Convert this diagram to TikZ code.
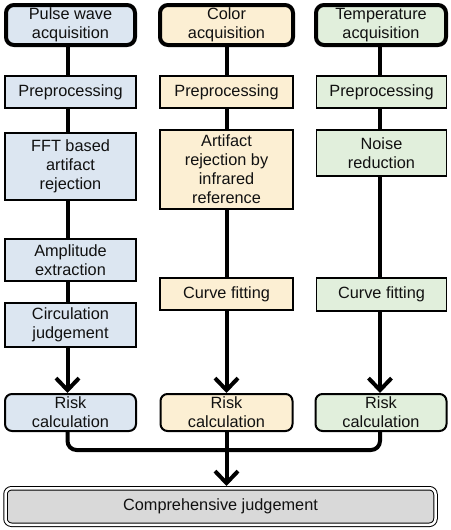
\documentclass[tikz,border=0pt]{standalone}
\usepackage{fontspec}
\setmainfont{Liberation Sans}
\usetikzlibrary{arrows.meta}
\definecolor{bluef}{HTML}{DCE6F1}
\definecolor{yelf}{HTML}{FCEFD3}
\definecolor{grnf}{HTML}{E1EFDC}
\definecolor{grayf}{HTML}{D9D9D9}
\definecolor{txt}{HTML}{111111}
\begin{document}
\begin{tikzpicture}[x=1pt,y=-1pt,
  every node/.style={font=\fontsize{16.3}{19}\selectfont, text=txt, align=center, inner sep=0pt},
  src/.style={draw, line width=4pt, rounded corners=8pt, minimum height=40pt},
  stepbox/.style={draw, line width=1.2pt},
  risk/.style={draw, line width=2pt, rounded corners=7pt, minimum height=37pt},
  conn/.style={line width=4pt},
  arr/.style={line width=4pt, -{Straight Barb[length=12pt,width=23pt]}},
]
\useasboundingbox (0,0) rectangle (450,530);

% column 1
\node[src, fill=bluef, minimum width=129pt] (p0) at (70.5,25) {Pulse wave\\acquisition};
\node[stepbox, fill=bluef, minimum width=131pt, minimum height=32pt] (p1) at (70.5,92) {Preprocessing};
\node[stepbox, fill=bluef, minimum width=131pt, minimum height=67pt] (p2) at (70.5,166.5) {FFT based\\artifact\\rejection};
\node[stepbox, fill=bluef, minimum width=131pt, minimum height=42pt] (p3) at (70.5,260) {Amplitude\\extraction};
\node[stepbox, fill=bluef, minimum width=131pt, minimum height=44pt] (p4) at (70.5,325) {Circulation\\judgement};
\node[risk, fill=bluef, minimum width=131pt] (p5) at (70.5,412.5) {Risk\\calculation};

% column 2
\node[src, fill=yelf, minimum width=133pt] (c0) at (226.5,25) {Color\\acquisition};
\node[stepbox, fill=yelf, minimum width=133pt, minimum height=32pt] (c1) at (226.5,92) {Preprocessing};
\node[stepbox, fill=yelf, minimum width=133pt, minimum height=79pt] (c2) at (226.5,169.5) {Artifact\\rejection by\\infrared\\reference};
\node[stepbox, fill=yelf, minimum width=133pt, minimum height=32pt] (c3) at (226.5,294) {Curve fitting};
\node[risk, fill=yelf, minimum width=132pt] (c4) at (226.5,412.5) {Risk\\calculation};

% column 3
\node[src, fill=grnf, minimum width=130pt] (t0) at (381,25) {Temperature\\acquisition};
\node[stepbox, fill=grnf, minimum width=130pt, minimum height=32pt] (t1) at (381.5,92) {Preprocessing};
\node[stepbox, fill=grnf, minimum width=130pt, minimum height=46pt] (t2) at (381.5,153) {Noise\\reduction};
\node[stepbox, fill=grnf, minimum width=130pt, minimum height=33pt] (t3) at (381.5,294.5) {Curve fitting};
\node[risk, fill=grnf, minimum width=131pt] (t4) at (381,412.5) {Risk\\calculation};

% final
\node[draw, line width=1pt, double=white, double distance=2.5pt, fill=grayf, rounded corners=6pt,
      minimum width=430pt, minimum height=36.5pt, outer sep=2.25pt] (cj) at (220.5,506.5) {Comprehensive judgement};

% connectors column 1
\draw[conn] ([xshift=-3pt]p0.south) -- ([xshift=-3pt]p1.north);
\draw[conn] ([xshift=-3pt]p1.south) -- ([xshift=-3pt]p2.north);
\draw[conn] ([xshift=-3pt]p2.south) -- ([xshift=-3pt]p3.north);
\draw[conn] ([xshift=-3pt]p3.south) -- ([xshift=-3pt]p4.north);
\draw[arr]  ([xshift=-3pt]p4.south) -- ([xshift=-3pt]p5.north);

% connectors column 2
\draw[conn] (c0.south) -- (c1.north);
\draw[conn] (c1.south) -- (c2.north);
\draw[conn] (c2.south) -- (c3.north);
\draw[arr]  (c3.south) -- (c4.north);

% connectors column 3
\draw[conn] ([xshift=-1pt]t0.south) -- ([xshift=-1.5pt]t1.north);
\draw[conn] ([xshift=-1.5pt]t1.south) -- ([xshift=-1.5pt]t2.north);
\draw[conn] ([xshift=-1.5pt]t2.south) -- ([xshift=-1.5pt]t3.north);
\draw[arr]  ([xshift=-1.5pt]t3.south) -- ([xshift=-1pt]t4.north);

% merge
\coordinate (m) at (226.5,450);
\draw[conn, rounded corners=9pt] ([xshift=-3pt]p5.south) |- (m) -| ([xshift=-1pt]t4.south);
\draw[arr] (c4.south) -- (c4.south |- cj.north);
\end{tikzpicture}
\end{document}
